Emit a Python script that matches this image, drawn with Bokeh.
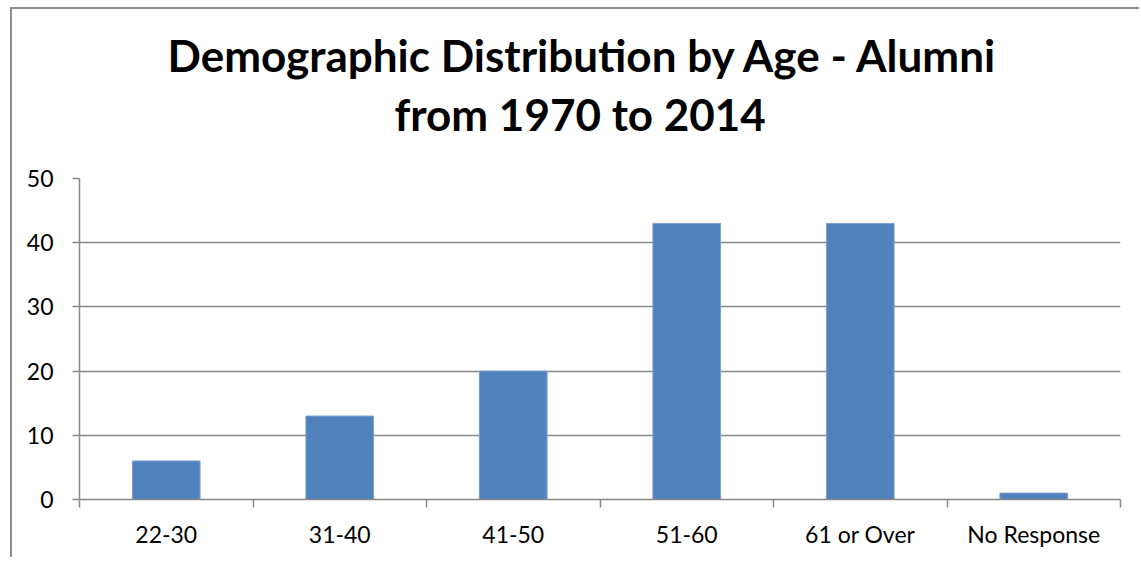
from bokeh.plotting import figure
from bokeh.models import Range1d, FixedTicker, Title
from bokeh.embed import file_html
from bokeh.resources import INLINE

categories = ["22-30", "31-40", "41-50", "51-60", "61 or Over", "No Response"]
counts = [6, 13, 20, 43, 43, 1]
y_ticks = [0, 10, 20, 30, 40, 50]
title_lines = ["Demographic Distribution by Age - Alumni", "from 1970 to 2014"]

FONT = "Lato"
GRID = "#898989"
BAR = "#4F81BD"

n = len(categories)
centers = [i + 0.5 for i in range(n)]
bounds = [float(i) for i in range(n + 1)]

# figure sits inside a grey-bordered box starting at (10, 7)
p = figure(width=1129, height=550, output_backend="svg", toolbar_location=None,
           x_range=Range1d(0, n), y_range=Range1d(0, 50),
           min_border_left=67, min_border_right=21, min_border_top=169, min_border_bottom=60,
           margin=(7, 0, 0, 10),
           styles={"border-left": "2px solid #8c8c8c", "border-top": "2px solid #8c8c8c"})
p.outline_line_color = None
p.background_fill_color = "white"
p.border_fill_color = "white"

p.vbar(x=centers, top=counts, width=0.39, fill_color=BAR, line_color="#7a9fd0", line_width=1)

xa = p.xaxis[0]
xa.ticker = FixedTicker(ticks=centers, minor_ticks=bounds)
xa.major_label_overrides = {c: lab for c, lab in zip(centers, categories)}
xa.major_tick_out = 0
xa.major_tick_in = 0
xa.minor_tick_out = 8
xa.minor_tick_in = 0
xa.minor_tick_line_color = GRID
xa.minor_tick_line_width = 1.5
xa.axis_line_color = GRID
xa.axis_line_width = 1.5
xa.major_label_text_font = FONT
xa.major_label_text_font_size = "23px"
xa.major_label_text_color = "black"
xa.major_label_standoff = 12

ya = p.yaxis[0]
ya.ticker = FixedTicker(ticks=y_ticks)
ya.major_tick_out = 7
ya.major_tick_in = 0
ya.minor_tick_line_color = None
ya.major_tick_line_color = GRID
ya.major_tick_line_width = 1.5
ya.axis_line_color = GRID
ya.axis_line_width = 1.5
ya.major_label_text_font = FONT
ya.major_label_text_font_size = "23px"
ya.major_label_text_color = "black"
ya.major_label_standoff = 19

p.xgrid.grid_line_color = None
p.ygrid.ticker = FixedTicker(ticks=y_ticks)
p.ygrid.grid_line_color = GRID
p.ygrid.grid_line_width = 1.5

# title: line nearest the frame first
for txt, so, off in zip(reversed(title_lines), [77, -67], [315, 88]):
    p.add_layout(Title(text=txt, align="left", offset=off, standoff=so,
                       text_font=FONT, text_font_size="44px", text_font_style="bold",
                       text_color="black"), "above")

open("out.html", "w").write(file_html(p, INLINE))
